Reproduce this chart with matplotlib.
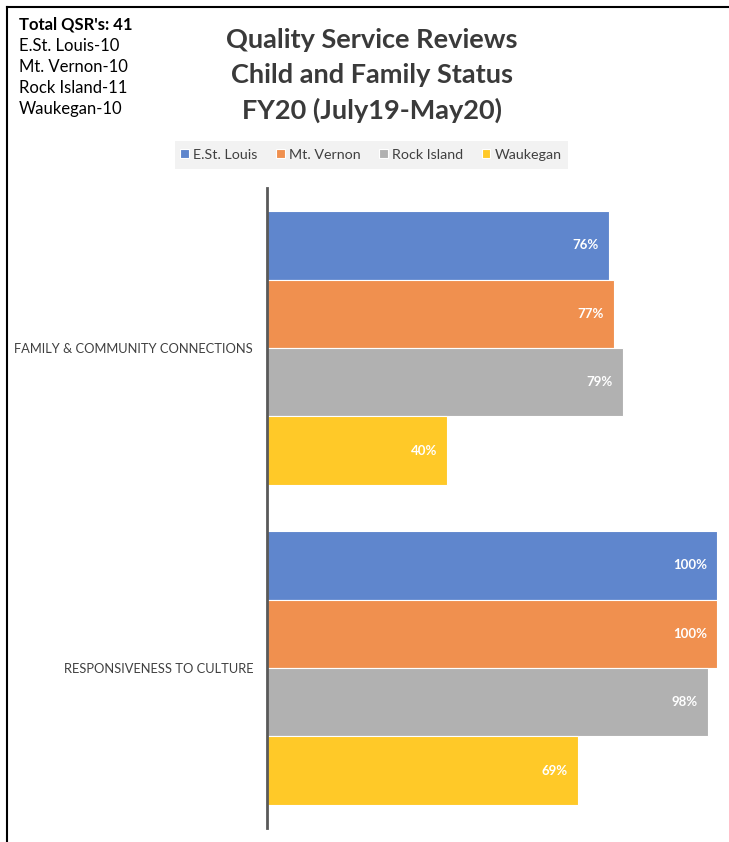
import matplotlib
matplotlib.use("Agg")
import matplotlib.pyplot as plt
from matplotlib.lines import Line2D
from matplotlib.patches import Rectangle

plt.rcParams["font.family"] = ["Lato", "DejaVu Sans"]

# -- data --
categories = ["FAMILY & COMMUNITY CONNECTIONS", "RESPONSIVENESS TO CULTURE"]
sites = ["E.St. Louis", "Mt. Vernon", "Rock Island", "Waukegan"]
est_louis = [76, 100]
mt_vernon = [77, 100]
rock_island = [79, 98]
waukegan = [40, 69]
site_counts = ["E.St. Louis-10", "Mt. Vernon-10", "Rock Island-11", "Waukegan-10"]

colors = ["#5F86CD", "#F0904F", "#B1B1B1", "#FFC928"]

W, H = 729, 842
fig = plt.figure(figsize=(W / 100, H / 100), dpi=100)
fig.patch.set_facecolor("white")

ax = fig.add_axes([267 / W, 14 / H, 450 / W, 640 / H])

series = [est_louis, mt_vernon, rock_island, waukegan]
ypos = [1, 0]          # first category on top
h = 0.214
offsets = [1.5 * h, 0.5 * h, -0.5 * h, -1.5 * h]
for vals, col, off, name in zip(series, colors, offsets, sites):
    bars = ax.barh([y + off for y in ypos], vals, height=h, color=col,
                   edgecolor="white", linewidth=0.8, label=name)
    for b, v in zip(bars, vals):
        ax.text(b.get_width() - 2.2, b.get_y() + b.get_height() / 2, f"{v}%",
                ha="right", va="center", color="white", fontsize=9.5,
                fontweight="bold")

ax.set_xlim(0, 100)
ax.set_ylim(-0.5, 1.5)
ax.set_xticks([])
ax.set_yticks(ypos)
ax.set_yticklabels(categories, fontsize=9.3, color="#404040")
ax.tick_params(axis="y", length=0, pad=10)
for s in ["top", "right", "bottom"]:
    ax.spines[s].set_visible(False)
ax.spines["left"].set_color("#595959")
ax.spines["left"].set_linewidth(2)

# title
for i, line in enumerate(["Quality Service Reviews", "Child and Family Status",
                          "FY20 (July19-May20)"]):
    fig.text(372 / W, 1 - (40 + i * 35) / H, line, ha="center", va="center",
             fontsize=19.5, fontweight="bold", color="#3A3A3A")

# legend with light gray background
fig.patches.append(Rectangle((175 / W, 1 - 169 / H), 393 / W, 28 / H,
                             transform=fig.transFigure, facecolor="#F2F2F2",
                             edgecolor="none", zorder=0))
leg = fig.legend(*ax.get_legend_handles_labels(), loc="center",
                 bbox_to_anchor=(371 / W, 1 - 155 / H), ncol=4, frameon=False,
                 fontsize=10.3, handlelength=0.6, handleheight=0.6,
                 handletextpad=0.3, columnspacing=1.3)
for t in leg.get_texts():
    t.set_color("#404040")

# top-left summary text
fig.text(19 / W, 1 - 24 / H, "Total QSR's: 41", ha="left", va="center",
         fontsize=12, fontweight="bold", color="black")
for i, s in enumerate(site_counts):
    fig.text(19 / W, 1 - (46 + i * 21) / H, s, ha="left", va="center",
             fontsize=12, color="black")

# border lines (top and left)
fig.lines.append(Line2D([7 / W, 1], [1 - 7 / H, 1 - 7 / H],
                        transform=fig.transFigure, color="black", lw=1.5))
fig.lines.append(Line2D([7 / W, 7 / W], [0, 1 - 7 / H],
                        transform=fig.transFigure, color="black", lw=1.5))

fig.savefig("out.png", dpi=100)
